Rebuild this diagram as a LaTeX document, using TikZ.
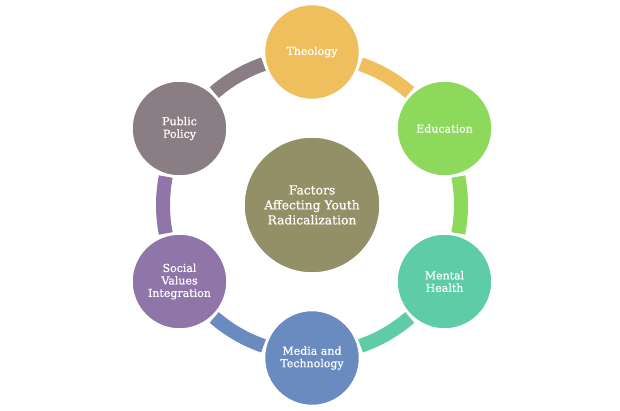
\documentclass[tikz,border=0pt]{standalone}
\usepackage{fontspec}
\setmainfont{DejaVu Serif}
\newfontfamily\lblfont{DejaVu Serif}[FakeBold=0.6]
\usetikzlibrary{calc}
\definecolor{cth}{HTML}{EEBF5C}
\definecolor{ced}{HTML}{8CD95C}
\definecolor{cmh}{HTML}{5DCCA7}
\definecolor{cmt}{HTML}{6A8BBF}
\definecolor{csv}{HTML}{8F75A8}
\definecolor{cpp}{HTML}{8A7D83}
\definecolor{cctr}{HTML}{938F67}
\tikzset{
  factor/.style={circle, minimum size=95pt, inner sep=0pt, fill=#1, draw=white, line width=1.5pt,
    text=white, align=center, font=\lblfont\fontsize{11}{12.5}\selectfont},
  hub/.style={circle, minimum size=136pt, inner sep=0pt, fill=cctr, draw=white, line width=1.5pt,
    text=white, align=center, font=\lblfont\fontsize{12.3}{15}\selectfont},
  band/.style={line width=14pt, draw=#1}
}
\begin{document}
\begin{tikzpicture}[x=1pt,y=1pt]
\useasboundingbox (0,0) rectangle (620,410);
\coordinate (C) at (312,205);
% bands
\foreach \a/\b/\c in {71/49/cth, 11/-11/ced, -49/-71/cmh, -109/-131/cmt, -169/-191/csv, 131/109/cpp}{
  \draw[band=\c] ($(C)+(\a:149)$) arc[start angle=\a, end angle=\b, radius=149];
}
\node[hub] (ctr) at (C) {Factors\\Affecting Youth\\Radicalization};
\node[factor=cth] (th) at ($(C)+(90:153)$) {Theology};
\node[factor=ced] (ed) at ($(C)+(30:153)$) {Education};
\node[factor=cmh] (mh) at ($(C)+(-30:153)$) {Mental\\Health};
\node[factor=cmt] (mt) at ($(C)+(-90:153)$) {Media and\\Technology};
\node[factor=csv] (sv) at ($(C)+(-150:153)$) {Social\\Values\\Integration};
\node[factor=cpp] (pp) at ($(C)+(150:153)$) {Public\\Policy};
\end{tikzpicture}
\end{document}
